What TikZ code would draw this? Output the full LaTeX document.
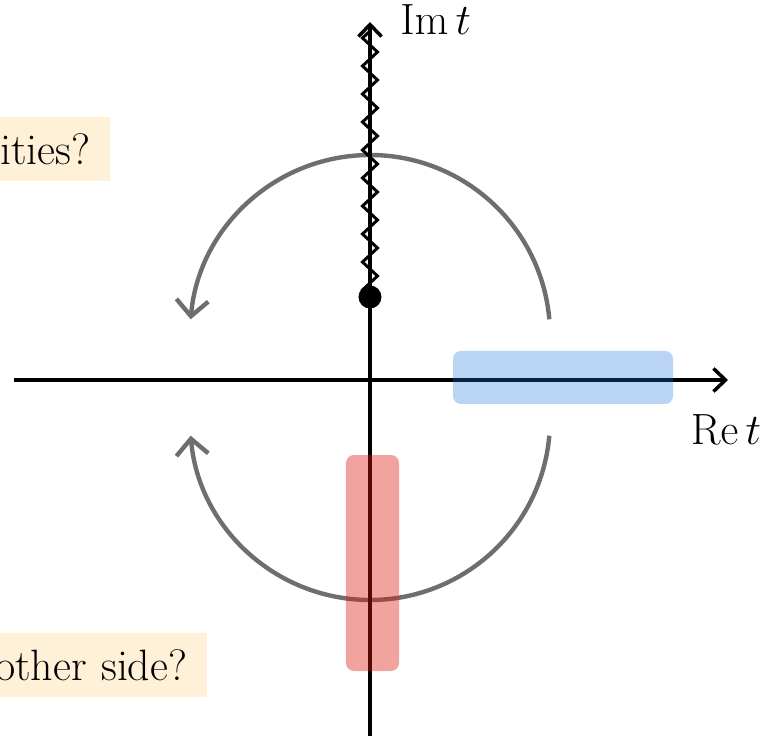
\documentclass[tikz,border=0pt]{standalone}
\usepackage{tikz}
\usetikzlibrary{positioning, arrows.meta, decorations.pathmorphing, calc}
\definecolor{notebg}{RGB}{254,241,216}
\definecolor{cutblue}{RGB}{25,112,215}
\definecolor{cutred}{RGB}{218,25,15}
\definecolor{loopgray}{RGB}{108,112,108}

\begin{document}
\begin{tikzpicture}[
			axis/.style={-{Straight Barb[length=2.4mm,width=4.6mm]}, line width=2pt},
			loop/.style={-{Straight Barb[length=3.2mm,width=6.4mm]}, line width=2.5pt, draw=loopgray},
			band/.style={rounded corners=4.5pt, fill opacity=0.3},
			note/.style={fill=notebg, anchor=east, text width=6cm, align=right, inner xsep=11pt, minimum height=1.28cm, font=\fontsize{25}{29}\selectfont},
			lbl/.style={font=\fontsize{26}{30}\selectfont, inner sep=0pt}
			]
			\useasboundingbox (-7.4,-7.12) rectangle (8.04,7.6);
			
			% axes
			\coordinate (o) at (0,0);
			\coordinate (xmin) at (-7.12,0);
			\coordinate (xmax) at (7.16,0);
			\coordinate (ymin) at (0,-7.2);
			\coordinate (ymax) at (0,7.16);
			
			% loops round the origin
			\coordinate (uc) at (0,0.9);
			\coordinate (lc) at (0,-0.8);
			\draw[loop] ($(uc)+(5:3.6)$) arc[start angle=5, end angle=175, radius=3.6];
			\draw[loop] ($(lc)+(-5:3.6)$) arc[start angle=-5, end angle=-175, radius=3.6];
			
			\draw[axis] (xmin) -- (xmax);
			\draw[axis] (ymin) -- (ymax);
			
			% branch cut
			\node[circle, fill=black, inner sep=0pt, minimum size=0.46cm] (bp) at (0,1.66) {};
			\coordinate (cutend) at (0,7.05);
			\draw[line width=1.7pt, decorate, decoration={zigzag, segment length=0.56cm, amplitude=0.15cm}] (bp.center) -- (cutend);
			
			% highlighted bands
			\fill[band, cutblue] (1.66,-0.48) rectangle (6.06,0.58);
			\fill[band, cutred, fill opacity=0.4] (-0.48,-5.82) rectangle (0.58,-1.5);
			
			% labels
			\node[lbl, anchor=west] (imlbl) at (0.6,7.2) {$\mathrm{Im}\,t$};
			\node[lbl] (relbl) at (7.12,-1.0) {$\mathrm{Re}\,t$};
			
			\node[note] (q1) at (-5.2,4.62) {ities?};
			\node[note] (q2) at (-3.26,-5.7) {other side?};
		\end{tikzpicture}
\end{document}
